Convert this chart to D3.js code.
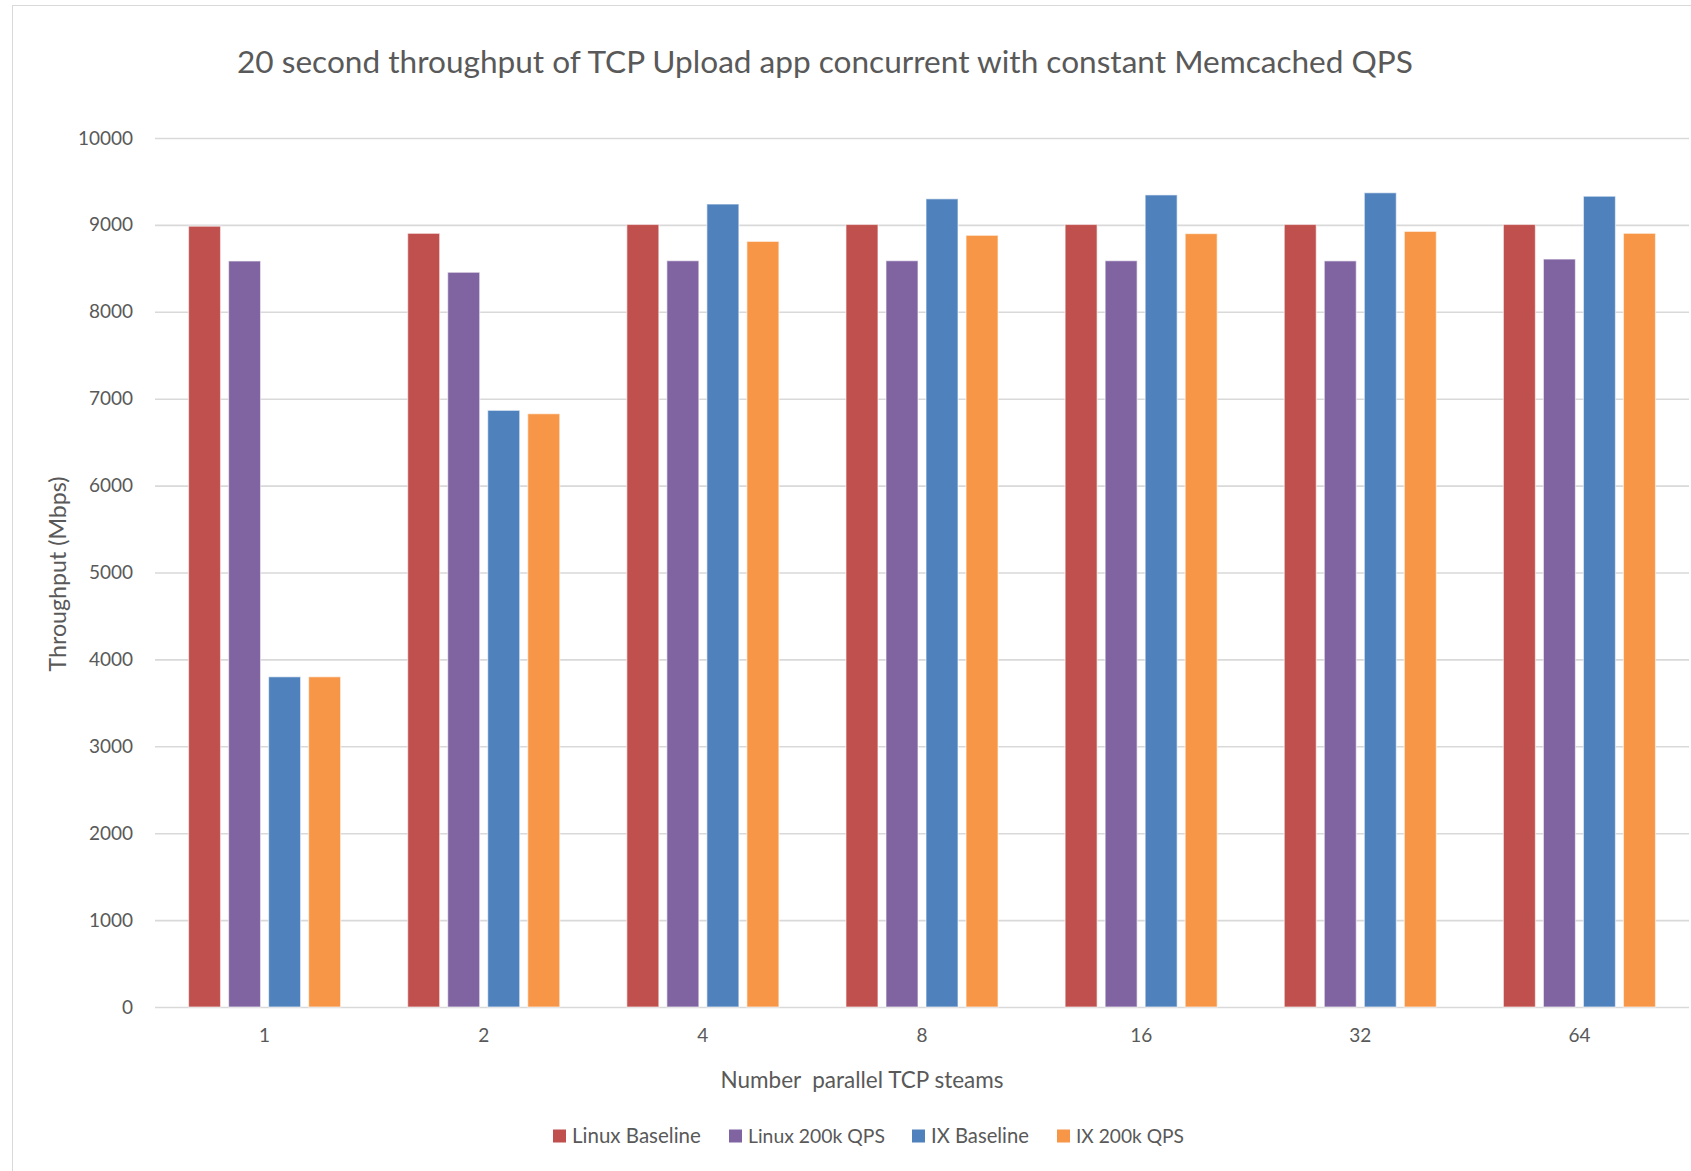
<!DOCTYPE html>
<html><head><meta charset="utf-8">
<script src="https://cdn.jsdelivr.net/npm/d3@7"></script>
<style>
html,body{margin:0;padding:0;background:#fff;}
svg{display:block;font-family:Lato, "Open Sans", sans-serif;}
</style></head>
<body>
<script>
const categories = ["1","2","4","8","16","32","64"];
const seriesNames = ["Linux Baseline","Linux 200k QPS","IX Baseline","IX 200k QPS"];
const linuxBaseline = [8985, 8903, 9005, 9005, 9005, 9005, 9005];
const linux200k     = [8585, 8455, 8588, 8588, 8588, 8586, 8607];
const ixBaseline    = [3800, 6866, 9240, 9300, 9345, 9370, 9330];
const ix200k        = [3800, 6827, 8810, 8880, 8900, 8925, 8903];
const yTicks = [0,1000,2000,3000,4000,5000,6000,7000,8000,9000,10000];
const colors = ["#C0504D","#8064A2","#4F81BD","#F79646"];

const seriesValues = [linuxBaseline, linux200k, ixBaseline, ix200k];
const W = 1691, H = 1171;
const svg = d3.select("body").append("svg").attr("width", W).attr("height", H);

svg.append("rect").attr("x",12.5).attr("y",5.5).attr("width",1720).attr("height",1220)
  .attr("fill","#fff").attr("stroke","#D9D9D9").attr("stroke-width",1);

const plot = {left:155, right:1689, top:138, bottom:1007};
const x0 = d3.scaleBand().domain(categories).range([plot.left, plot.right])
  .paddingInner(0.306).paddingOuter(0.153);
const x1 = d3.scaleBand().domain(seriesNames).range([0, x0.bandwidth()]).paddingInner(0.2);
const y = d3.scaleLinear().domain([0,10000]).range([plot.bottom, plot.top]);

const textColor = "#595959";

function fit(sel, target){
  const n = sel.node();
  const fs = parseFloat(sel.attr("font-size"));
  const w = n.getComputedTextLength();
  if (w>0) sel.attr("font-size", (fs*target/w).toFixed(2));
}

const yAxis = d3.axisLeft(y).tickValues(yTicks).tickSize(-(plot.right-plot.left)).tickPadding(22).tickFormat(d3.format("d"));
const gy = svg.append("g").attr("transform",`translate(${plot.left},0)`).call(yAxis);
gy.select(".domain").remove();
gy.selectAll(".tick line").attr("stroke","#D9D9D9").attr("stroke-width",1.6);
gy.selectAll(".tick text").attr("fill",textColor).attr("font-size",19).attr("font-family","Lato");

const rows = categories.map((c,i)=>({cat:c, vals: seriesNames.map((s,j)=>({s, v: seriesValues[j][i], j}))}));
const groups = svg.append("g").selectAll("g").data(rows).join("g")
  .attr("transform", d=>`translate(${x0(d.cat)},0)`);
groups.selectAll("rect").data(d=>d.vals).join("rect")
  .attr("x", d=>x1(d.s)).attr("width", x1.bandwidth())
  .attr("y", d=>y(d.v)).attr("height", d=>y(0)-y(d.v))
  .attr("fill", d=>colors[d.j])
  .attr("stroke","#ffffff").attr("stroke-opacity",0.55).attr("stroke-width",1.2);

const xAxis = d3.axisBottom(x0).tickSize(0).tickPadding(22);
const gx = svg.append("g").attr("transform",`translate(0,${plot.bottom})`).call(xAxis);
gx.select(".domain").remove();
gx.selectAll(".tick text").attr("fill",textColor).attr("font-size",19).attr("font-family","Lato");

const title = svg.append("text").attr("x",825).attr("y",73).attr("text-anchor","middle")
  .attr("fill",textColor).attr("font-size",31).attr("font-family","Lato")
  .text("20 second throughput of TCP Upload app concurrent with constant Memcached QPS");
fit(title, 1176);

const xt = svg.append("text").attr("x",862).attr("y",1088).attr("text-anchor","middle")
  .attr("fill",textColor).attr("font-size",19).attr("font-family","Lato")
  .style("white-space","pre").text("Number  parallel TCP steams");
fit(xt, 283);

const yt = svg.append("text").attr("transform","translate(66,574) rotate(-90)").attr("text-anchor","middle")
  .attr("fill",textColor).attr("font-size",19).attr("font-family","Lato")
  .text("Throughput (Mbps)");
fit(yt, 195);

const legendX = [553, 729, 912, 1057];
const legendW = [129, 137, 98, 108];
const lg = svg.append("g").selectAll("g").data(seriesNames).join("g")
  .attr("transform",(d,i)=>`translate(${legendX[i]},1136)`);
lg.append("rect").attr("x",0).attr("y",-6.5).attr("width",13).attr("height",13).attr("fill",(d,i)=>colors[i]);
lg.append("text").attr("x",19).attr("y",6.5).attr("fill",textColor).attr("font-size",18).attr("font-family","Lato")
  .text(d=>d).each(function(d,i){ fit(d3.select(this), legendW[i]); });
</script>
</body></html>
